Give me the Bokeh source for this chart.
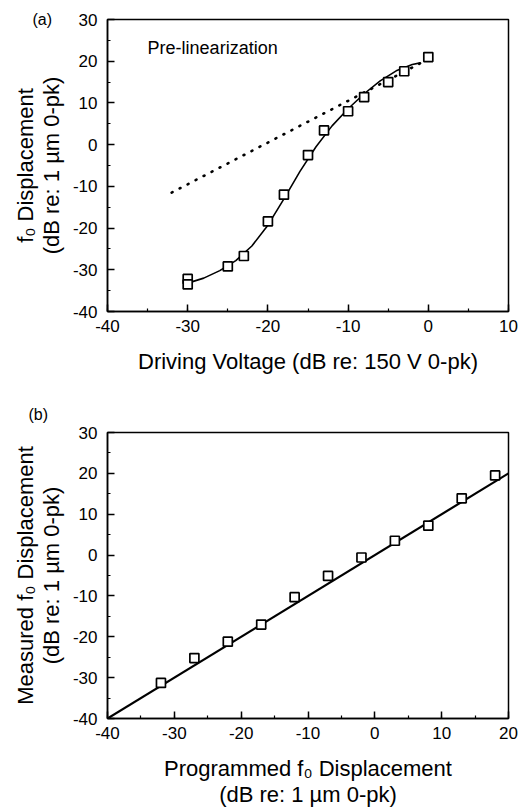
from bokeh.plotting import figure
from bokeh.models import SingleIntervalTicker, Label, Range1d
from bokeh.layouts import column
from bokeh.embed import file_html
from bokeh.resources import INLINE

FONT = "Liberation Sans"

# ---- panel (a): pre-linearization ----
a_volt = [-30, -30, -25, -23, -20, -18, -15, -13, -10, -8, -5, -3, 0]
a_disp = [-32.2, -33.5, -29.2, -26.7, -18.4, -12.0, -2.5, 3.4, 8.0, 11.4, 15.0, 17.6, 21.0]
a_fit_volt = [-30, -28, -26, -24, -22, -20, -18, -16, -14, -12, -10, -8, -6, -4, -2, -1]
a_fit_disp = [-33.2, -32.0, -30.2, -27.8, -24.3, -19.3, -13.0, -6.4, -0.5, 4.5, 8.6, 12.2, 15.3, 17.7, 19.2, 19.6]
a_lin_volt = [-32, -1]
a_lin_disp = [-11.5, 19.5]

# ---- panel (b): post-linearization ----
b_prog = [-32, -27, -22, -17, -12, -7, -2, 3, 8, 13, 18]
b_meas = [-31.3, -25.2, -21.2, -17.0, -10.3, -5.1, -0.6, 3.5, 7.2, 13.9, 19.5]
b_ideal_x = [-40, 20]
b_ideal_y = [-40, 20]

tick_values = list(range(-40, 31, 10))


def style(p):
    p.outline_line_color = "black"
    p.outline_line_width = 1.5
    p.outline_line_alpha = 1.0
    p.grid.visible = False
    p.background_fill_color = "white"
    p.border_fill_color = "white"
    for ax in (p.xaxis[0], p.yaxis[0]):
        ax.ticker = SingleIntervalTicker(interval=10, num_minor_ticks=2)
        ax.major_label_overrides = {v: str(v) for v in tick_values}
        ax.axis_line_width = 1.5
        ax.axis_line_color = "black"
        ax.major_tick_in = 7
        ax.major_tick_out = 0
        ax.minor_tick_in = 3
        ax.minor_tick_out = 0
        ax.major_tick_line_width = 1.5
        ax.minor_tick_line_width = 1.2
        ax.major_tick_line_color = "black"
        ax.minor_tick_line_color = "black"
        ax.major_label_text_font = FONT
        ax.major_label_text_font_size = "17px"
        ax.major_label_text_color = "black"
        ax.axis_label_text_font = FONT
        ax.axis_label_text_font_size = "22px"
        ax.axis_label_text_font_style = "normal"
        ax.axis_label_text_color = "black"
        ax.axis_label_text_line_height = 1.05
    p.yaxis[0].major_label_standoff = 10
    p.xaxis[0].major_label_standoff = 8
    p.yaxis[0].axis_label_standoff = 6
    p.title.text_font = FONT
    p.title.text_font_size = "16px"
    p.title.text_font_style = "normal"
    p.title.text_color = "black"
    p.title.align = "left"


# ---------- figure (a) ----------
p1 = figure(width=524, height=385, output_backend="svg", toolbar_location=None,
            x_range=Range1d(-40, 10), y_range=Range1d(-40, 30))
p1.min_border_left = 104
p1.min_border_right = 16
p1.min_border_top = 19
p1.min_border_bottom = 74
style(p1)
p1.xaxis[0].axis_label_standoff = 14
p1.xaxis[0].axis_label = "Driving Voltage (dB re: 150 V 0-pk)"
p1.yaxis[0].axis_label = "f\u2080 Displacement\n(dB re: 1 \u00b5m 0-pk)"
p1.title.text = "(a)"
p1.title.offset = -75
p1.title.standoff = -16

p1.line(a_lin_volt, a_lin_disp, line_color="black", line_width=2.6,
        line_dash="1 8", line_cap="round")
p1.line(a_fit_volt, a_fit_disp, line_color="black", line_width=1.6)
p1.scatter(a_volt, a_disp, marker="square", size=9, fill_color="white",
           line_color="black", line_width=1.7)

p1.add_layout(Label(x=-35.0, y=23.2, text="Pre-linearization", text_font=FONT,
                    text_font_size="18px", text_baseline="middle", text_align="left",
                    text_color="black"))

# ---------- figure (b) ----------
p2 = figure(width=524, height=424, output_backend="svg", toolbar_location=None,
            x_range=Range1d(-40, 20), y_range=Range1d(-40, 30))
p2.min_border_left = 107
p2.min_border_right = 10
p2.min_border_top = 47
p2.min_border_bottom = 89
style(p2)
p2.xaxis[0].axis_label_standoff = 14
p2.xaxis[0].axis_label = "Programmed f\u2080 Displacement\n(dB re: 1 \u00b5m 0-pk)"
p2.yaxis[0].axis_label = "Measured f\u2080 Displacement\n(dB re: 1 \u00b5m 0-pk)"
p2.title.text = "(b)"
p2.title.offset = -79
p2.title.standoff = 19

p2.line(b_ideal_x, b_ideal_y, line_color="black", line_width=2.2)
p2.scatter(b_prog, b_meas, marker="square", size=9, fill_color="white",
           line_color="black", line_width=1.7)

layout = column(p1, p2, spacing=0)
open("out.html", "w").write(file_html(layout, INLINE))
